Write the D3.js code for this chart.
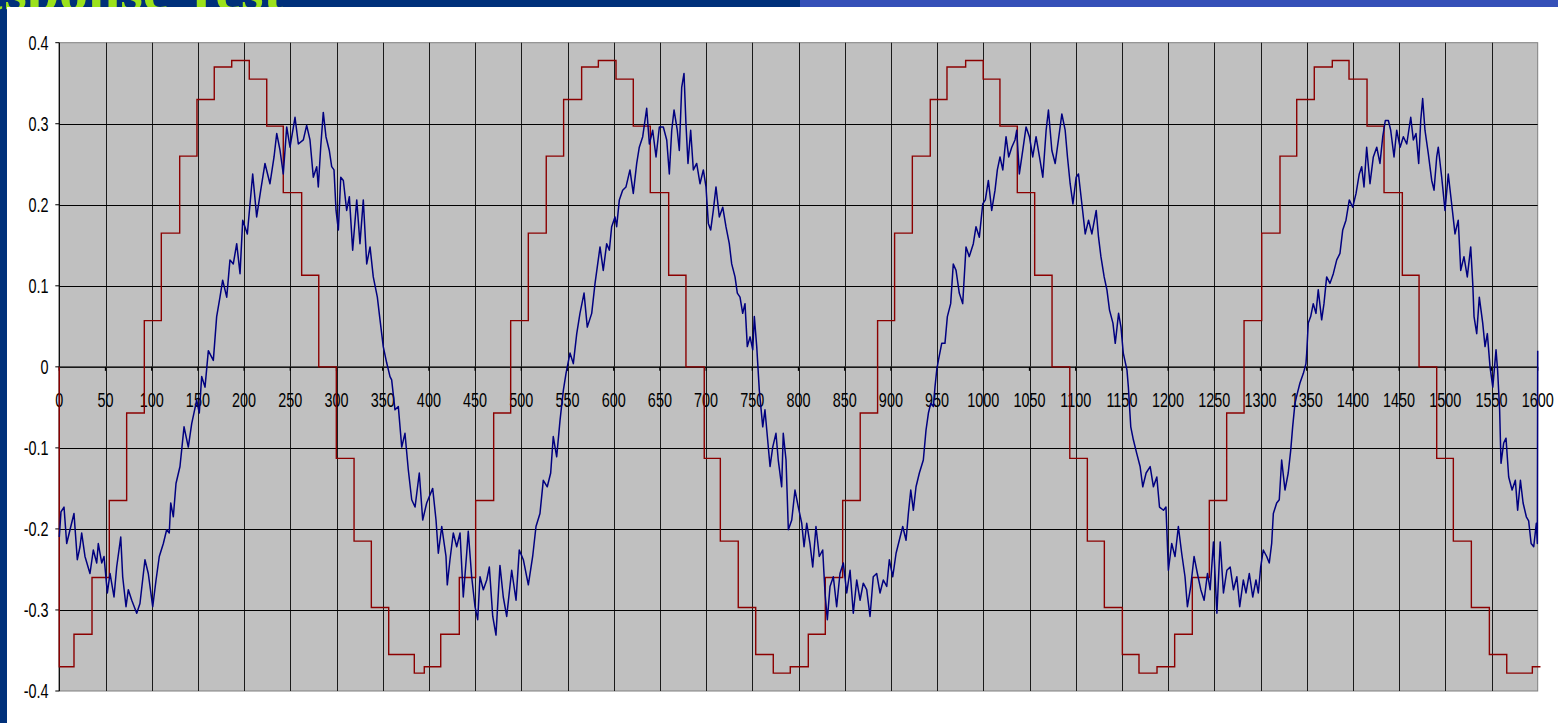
<!DOCTYPE html>
<html>
<head>
<meta charset="utf-8">
<script src="https://cdn.jsdelivr.net/npm/d3@7/dist/d3.min.js"></script>
<style>
  body { margin: 0; background: #fff; overflow: hidden; }
  svg { display: block; }
</style>
</head>
<body>
<svg id="chart"></svg>
<script>
// x axis ticks / y axis ticks
const xTicks = d3.range(0, 1601, 50);
const yTicks = [-0.4, -0.3, -0.2, -0.1, 0, 0.1, 0.2, 0.3, 0.4];
const yTickLabels = ['-0.4', '-0.3', '-0.2', '-0.1', '0', '0.1', '0.2', '0.3', '0.4'];

// command signal: [x where the level starts, level] (held until next point)
const command = [
  [0, 0], [0, -0.37], [15.9, -0.33], [35.4, -0.26], [54.1, -0.165], [72.9, -0.057], [92, 0.057],
  [110.4, 0.165], [130.3, 0.26], [149, 0.33], [167.7, 0.37], [186.6, 0.378], [205.6, 0.355],
  [224.5, 0.297], [242.4, 0.215], [262.3, 0.113], [280.8, 0], [299.8, -0.113], [319, -0.215],
  [337.7, -0.297], [356.5, -0.355], [384.2, -0.378], [395, -0.37], [412.8, -0.33], [432.9, -0.26],
  [450.6, -0.165], [470.1, -0.057], [488.5, 0.057], [507.6, 0.165], [527, 0.26], [545.8, 0.33],
  [565.3, 0.37], [583.4, 0.378], [602.5, 0.355], [621.2, 0.297], [639.6, 0.215], [659.5, 0.113],
  [678.2, 0], [698, -0.113], [715.4, -0.215], [734.8, -0.297], [753.7, -0.355], [772.7, -0.378],
  [791.1, -0.37], [810.6, -0.33], [829, -0.26], [847.8, -0.165], [866.8, -0.057], [885.6, 0.057],
  [904, 0.165], [923.2, 0.26], [942.6, 0.33], [960.7, 0.37], [980.9, 0.378], [999.9, 0.355],
  [1018, 0.297], [1036.8, 0.215], [1055.6, 0.113], [1074.4, 0], [1093.6, -0.113], [1112.6, -0.215],
  [1131, -0.297], [1150.5, -0.355], [1168.5, -0.378], [1188, -0.37], [1207.1, -0.33], [1226.2, -0.26],
  [1244.6, -0.165], [1263.4, -0.057], [1282.2, 0.057], [1301.3, 0.165], [1321.1, 0.26], [1339.2, 0.33],
  [1358.2, 0.37], [1377.7, 0.378], [1395.8, 0.355], [1415.3, 0.297], [1433.7, 0.215], [1453.5, 0.113],
  [1471.6, 0], [1490.7, -0.113], [1508.7, -0.215], [1528.2, -0.297], [1547.7, -0.355], [1566.5, -0.378],
  [1594.2, -0.37], [1603, -0.37]
];

// measured response: [x, value]
const response = [
  [0, -0.21], [1.8, -0.179], [5.1, -0.173], [8, -0.218], [11.6, -0.201], [15.9, -0.181], [19.5, -0.238],
  [22.4, -0.222], [24.2, -0.205], [27.8, -0.234], [33.2, -0.255], [36.8, -0.226], [40.5, -0.242],
  [42.2, -0.218], [45.9, -0.242], [48.4, -0.234], [52, -0.279], [54.9, -0.255], [59.2, -0.284],
  [62.1, -0.247], [66.5, -0.21], [68.6, -0.259], [72.2, -0.296], [74.7, -0.275], [78.4, -0.288],
  [83.8, -0.304], [87.3, -0.292], [92.7, -0.238], [96.3, -0.255], [101.1, -0.296], [104.7, -0.263],
  [108.2, -0.234], [112.6, -0.218], [116.2, -0.201], [119, -0.205], [120.6, -0.168], [123.4, -0.185],
  [126.3, -0.144], [130.6, -0.123], [135, -0.074], [139.6, -0.099], [143.3, -0.07], [148.7, -0.041],
  [151.5, -0.057], [154.1, -0.012], [157.7, -0.025], [161.3, 0.02], [166.7, 0.008], [170.3, 0.062],
  [173.9, 0.086], [176.8, 0.107], [181.2, 0.086], [184.7, 0.132], [188.3, 0.127], [192, 0.152],
  [195.6, 0.115], [198.5, 0.181], [203.5, 0.164], [209.3, 0.238], [213.6, 0.185], [218, 0.218],
  [222.6, 0.251], [228, 0.226], [232.4, 0.259], [235.3, 0.288], [238.9, 0.267], [242.4, 0.238],
  [246.1, 0.296], [249.7, 0.271], [255.1, 0.308], [258.7, 0.275], [264.1, 0.28], [267.7, 0.298],
  [271.3, 0.28], [274.9, 0.234], [278.6, 0.247], [280.3, 0.222], [282.9, 0.271], [285.7, 0.314],
  [288.6, 0.284], [292.2, 0.267], [294.8, 0.247], [297.3, 0.243], [299.5, 0.193], [302, 0.169],
  [304.6, 0.234], [307.4, 0.23], [311, 0.193], [313.9, 0.21], [317.5, 0.144], [321.9, 0.206],
  [325.4, 0.152], [329, 0.206], [332.7, 0.127], [336.3, 0.148], [339.8, 0.111], [344.2, 0.086],
  [347.1, 0.058], [350.6, 0.025], [354.3, 0.005], [357.9, -0.012], [359.7, -0.016], [363.3, -0.053],
  [366.9, -0.049], [370.6, -0.099], [374.1, -0.082], [377.7, -0.127], [381.4, -0.164], [385, -0.173],
  [389.6, -0.131], [393.3, -0.189], [397.6, -0.168], [404.1, -0.15], [407.7, -0.189], [410.2, -0.23],
  [413.9, -0.197], [418.5, -0.234], [419.9, -0.269], [422.8, -0.238], [426.4, -0.205], [430.1, -0.222],
  [433.7, -0.205], [437.2, -0.284], [440.9, -0.23], [442.6, -0.203], [446.3, -0.259], [449.9, -0.296],
  [452.8, -0.312], [455.3, -0.259], [458.9, -0.275], [462.6, -0.263], [465.4, -0.247], [469.1, -0.308],
  [472.6, -0.331], [476.9, -0.245], [480.5, -0.284], [484.2, -0.308], [489.6, -0.251], [494.3, -0.288],
  [497.8, -0.226], [502.2, -0.238], [507.6, -0.269], [512.3, -0.234], [515.9, -0.197], [520.2, -0.181],
  [523.8, -0.14], [528.1, -0.148], [531.8, -0.131], [534.6, -0.086], [538.3, -0.111], [541.9, -0.066],
  [545.5, -0.029], [548.4, -0.008], [552.7, 0.017], [556.3, 0.004], [560, 0.041], [563.5, 0.066],
  [567.9, 0.091], [571.4, 0.049], [576.2, 0.066], [579.8, 0.103], [585.2, 0.148], [588.7, 0.119],
  [592.4, 0.152], [595.3, 0.144], [597.8, 0.173], [601.4, 0.185], [603.2, 0.173], [606.1, 0.206],
  [609.7, 0.218], [613.3, 0.222], [617.6, 0.243], [621.2, 0.214], [624.9, 0.251], [627.7, 0.271],
  [631.4, 0.284], [635.7, 0.319], [638.6, 0.275], [642.2, 0.292], [645.8, 0.259], [649.4, 0.296],
  [653.7, 0.296], [657.4, 0.28], [660.2, 0.238], [662.8, 0.292], [665.3, 0.317], [668.8, 0.292],
  [671, 0.267], [673.6, 0.345], [676.1, 0.362], [678.2, 0.3], [680.4, 0.251], [683.3, 0.292],
  [686.2, 0.243], [689.8, 0.251], [693.4, 0.226], [697, 0.243], [699.9, 0.222], [702.4, 0.177],
  [705, 0.169], [707.8, 0.193], [710.7, 0.222], [714.3, 0.185], [718, 0.197], [721.5, 0.173],
  [725.1, 0.152], [727.7, 0.127], [731.3, 0.111], [733.8, 0.091], [736.7, 0.086], [739.6, 0.066],
  [742.1, 0.078], [744.6, 0.025], [747.6, 0.037], [750.5, 0.021], [752.2, 0.062], [754.8, 0.025],
  [757.6, -0.029], [761.3, -0.074], [763.7, -0.053], [766.3, -0.086], [769.2, -0.123], [772.1, -0.099],
  [775.6, -0.082], [778.1, -0.115], [781.8, -0.148], [783.5, -0.082], [786.5, -0.115], [789, -0.201],
  [792.7, -0.189], [796.2, -0.152], [799.8, -0.173], [803.5, -0.193], [806, -0.222], [808.9, -0.193],
  [812.4, -0.218], [815.4, -0.247], [818.9, -0.197], [822.5, -0.234], [826.2, -0.226], [828.7, -0.279],
  [831.2, -0.312], [834.1, -0.271], [837.7, -0.259], [841.3, -0.296], [844.9, -0.255], [848.5, -0.242],
  [852.2, -0.279], [855.8, -0.251], [859.3, -0.304], [863, -0.263], [866.6, -0.288], [870.1, -0.267],
  [873.8, -0.275], [877.4, -0.308], [880.9, -0.259], [884.6, -0.255], [888.2, -0.279], [891.8, -0.263],
  [895.5, -0.271], [898.3, -0.238], [902, -0.259], [905.6, -0.23], [909.1, -0.214], [912.8, -0.197],
  [916.4, -0.214], [918.9, -0.181], [921.5, -0.152], [924.3, -0.177], [927.2, -0.148], [930.8, -0.131],
  [935.1, -0.115], [938, -0.078], [940.6, -0.057], [943.1, -0.045], [946, -0.049], [947.7, -0.025],
  [949.6, -0.004], [951.4, 0.008], [955, 0.029], [958.5, 0.029], [961.1, 0.062], [964.7, 0.078],
  [967.5, 0.127], [970.5, 0.119], [974, 0.091], [977.7, 0.078], [981.3, 0.148], [984.8, 0.136],
  [989.2, 0.152], [992.1, 0.173], [995.7, 0.16], [999.4, 0.201], [1002.2, 0.206], [1005.5, 0.23],
  [1009.1, 0.193], [1012.7, 0.218], [1015.2, 0.243], [1018.1, 0.259], [1021.1, 0.243], [1024.6, 0.284],
  [1027.5, 0.259], [1030.8, 0.271], [1034.3, 0.28], [1036.2, 0.292], [1039, 0.238], [1042.7, 0.267],
  [1046.3, 0.296], [1049.9, 0.284], [1053.5, 0.259], [1057.1, 0.284], [1060.8, 0.259], [1064.4, 0.234],
  [1068, 0.292], [1070.5, 0.317], [1074.2, 0.267], [1077.8, 0.251], [1081.3, 0.28], [1085, 0.312],
  [1088.6, 0.292], [1091.1, 0.259], [1094, 0.226], [1097, 0.201], [1100.5, 0.234], [1103, 0.238],
  [1106.7, 0.201], [1110.3, 0.164], [1113.9, 0.181], [1117.5, 0.164], [1122.2, 0.193], [1124.7, 0.16],
  [1127.3, 0.136], [1130.8, 0.111], [1133.8, 0.095], [1136.6, 0.07], [1140.3, 0.054], [1142.8, 0.029],
  [1146.4, 0.066], [1149, 0.049], [1151.5, 0.017], [1155.5, -0.004], [1157, -0.025], [1159.6, -0.074],
  [1162.4, -0.09], [1166.1, -0.107], [1169.7, -0.123], [1172.6, -0.148], [1176.2, -0.131], [1180.6, -0.123],
  [1184.1, -0.148], [1187.8, -0.136], [1190.7, -0.173], [1195, -0.177], [1197.7, -0.173], [1200.3, -0.251],
  [1203.9, -0.218], [1207.5, -0.234], [1211.1, -0.197], [1214.7, -0.23], [1218.3, -0.259], [1220.9, -0.296],
  [1224.5, -0.271], [1228.1, -0.234], [1231.7, -0.255], [1235.4, -0.275], [1239, -0.288], [1242.6, -0.255],
  [1245.5, -0.275], [1249.1, -0.216], [1252.8, -0.304], [1256.4, -0.216], [1259.9, -0.279], [1263.6, -0.251],
  [1267.2, -0.247], [1270.7, -0.275], [1274.4, -0.259], [1277.5, -0.296], [1281.4, -0.263], [1284.3, -0.279],
  [1287.9, -0.255], [1291.6, -0.284], [1295.1, -0.263], [1297.6, -0.279], [1300.2, -0.247], [1303, -0.226],
  [1306.7, -0.234], [1309.5, -0.242], [1312.1, -0.218], [1313.9, -0.181], [1317.5, -0.168], [1320.3, -0.164],
  [1322.9, -0.115], [1326.5, -0.152], [1330, -0.131], [1332.7, -0.103], [1334.8, -0.074], [1337.3, -0.045],
  [1339.8, -0.033], [1342.7, -0.02], [1346.4, -0.008], [1349.2, 0.004], [1350, 0.017], [1351.7, 0.054],
  [1354.3, 0.062], [1357.1, 0.078], [1360, 0.066], [1362.5, 0.095], [1366.2, 0.058], [1368.7, 0.078],
  [1371.6, 0.111], [1375.2, 0.103], [1378.8, 0.115], [1382.5, 0.132], [1386, 0.14], [1389, 0.169],
  [1392.5, 0.181], [1396.1, 0.206], [1399.8, 0.197], [1403.4, 0.214], [1406.9, 0.238], [1409.5, 0.247],
  [1412, 0.222], [1414.9, 0.271], [1418.5, 0.226], [1422.1, 0.259], [1425.8, 0.271], [1429.3, 0.251],
  [1432.3, 0.284], [1435.1, 0.304], [1438.4, 0.304], [1440.9, 0.292], [1444.5, 0.259], [1447.4, 0.292],
  [1451.1, 0.271], [1454.6, 0.284], [1458.3, 0.275], [1462.6, 0.308], [1465.4, 0.28], [1468.3, 0.288],
  [1471.2, 0.251], [1473.4, 0.304], [1475.5, 0.331], [1478, 0.292], [1481.6, 0.263], [1485.3, 0.23],
  [1487.8, 0.218], [1490.7, 0.259], [1492.4, 0.271], [1496.1, 0.234], [1499.7, 0.193], [1503.2, 0.238],
  [1506.9, 0.201], [1510.5, 0.164], [1514, 0.181], [1516.7, 0.119], [1520.2, 0.136], [1523.8, 0.111],
  [1527.5, 0.148], [1529.7, 0.103], [1531.1, 0.062], [1534, 0.041], [1536.8, 0.086], [1540.5, 0.054],
  [1543, 0.025], [1545.5, 0.041], [1548.4, 0], [1551.4, -0.025], [1554.9, 0.021], [1556.6, -0.004],
  [1558.8, -0.053], [1560.3, -0.119], [1563.2, -0.094], [1565.7, -0.088], [1568.6, -0.136], [1572.3, -0.152],
  [1575.8, -0.14], [1578.3, -0.177], [1581.3, -0.14], [1584.2, -0.168], [1587.7, -0.185], [1590.2, -0.19],
  [1592.9, -0.218], [1595.7, -0.222], [1598.5, -0.193], [1599.6, -0.218], [1600, 0.02]
];

const W = 1558, H = 723;
const svg = d3.select('#chart').attr('width', W).attr('height', H);

// slide background behind the chart object
svg.append('rect').attr('x', 0).attr('y', 0).attr('width', W).attr('height', H).attr('fill', '#00307a');
svg.append('rect').attr('x', 800).attr('y', 0).attr('width', W - 800).attr('height', 8).attr('fill', '#3550b8');
svg.append('text')
  .attr('x', 283).attr('y', 10)
  .attr('text-anchor', 'end')
  .style('font-family', '"Liberation Serif", "DejaVu Serif", serif')
  .style('font-weight', 'bold')
  .style('font-size', '58px')
  .attr('fill', '#9be21c')
  .text('Step Response Test');
svg.append('rect').attr('x', 7).attr('y', 7).attr('width', W - 7).attr('height', H - 7).attr('fill', '#fff');

const x = d3.scaleLinear().domain([0, 1600]).range([59.3, 1537.7]);
const y = d3.scaleLinear().domain([-0.4, 0.4]).range([691, 42.7]);

// plot area
svg.append('rect')
  .attr('x', x(0)).attr('y', y(0.4))
  .attr('width', x(1600) - x(0)).attr('height', y(-0.4) - y(0.4))
  .attr('fill', '#c0c0c0')
  .attr('stroke', '#808080')
  .attr('stroke-width', 1);

const grid = svg.append('g').attr('class', 'grid');
grid.selectAll('line.v')
  .data(xTicks.filter(d => d > 0 && d < 1600))
  .enter().append('line')
  .attr('class', 'v')
  .attr('x1', d => Math.round(x(d)) + 0.5).attr('x2', d => Math.round(x(d)) + 0.5)
  .attr('y1', y(0.4)).attr('y2', y(-0.4))
  .attr('stroke', '#1a1a1a').attr('stroke-width', 1);
grid.selectAll('line.h')
  .data(yTicks.filter(d => d > -0.4 && d < 0.4))
  .enter().append('line')
  .attr('class', 'h')
  .attr('x1', x(0)).attr('x2', x(1600))
  .attr('y1', d => Math.round(y(d)) + 0.5).attr('y2', d => Math.round(y(d)) + 0.5)
  .attr('stroke', '#000').attr('stroke-width', 1);

// axes
svg.append('line')
  .attr('x1', x(0)).attr('x2', x(0)).attr('y1', y(0.4)).attr('y2', y(-0.4))
  .attr('stroke', '#000').attr('stroke-width', 1.2);
svg.append('line')
  .attr('x1', x(0)).attr('x2', x(1600)).attr('y1', y(0)).attr('y2', y(0))
  .attr('stroke', '#333').attr('stroke-width', 1.4);

// small tick marks
svg.append('g').selectAll('line')
  .data(yTicks).enter().append('line')
  .attr('x1', x(0) - 4).attr('x2', x(0))
  .attr('y1', d => y(d)).attr('y2', d => y(d))
  .attr('stroke', '#000');
svg.append('g').selectAll('line')
  .data(xTicks).enter().append('line')
  .attr('x1', d => x(d)).attr('x2', d => x(d))
  .attr('y1', y(0)).attr('y2', y(0) + 4)
  .attr('stroke', '#000').attr('stroke-width', 1.3);

const labelFont = '"Liberation Sans", Arial, sans-serif';
svg.append('g').selectAll('text')
  .data(yTicks).enter().append('text')
  .attr('transform', d => 'translate(48.5,' + (y(d) + 7) + ') scale(0.74,1)')
  .attr('text-anchor', 'end')
  .style('font-family', labelFont)
  .style('font-size', '19.5px')
  .attr('fill', '#000')
  .text((d, i) => yTickLabels[i]);

svg.append('g').selectAll('text')
  .data(xTicks).enter().append('text')
  .attr('transform', d => 'translate(' + x(d) + ',' + (y(0) + 40.5) + ') scale(0.74,1)')
  .attr('text-anchor', 'middle')
  .style('font-family', labelFont)
  .style('font-size', '19.5px')
  .attr('fill', '#000')
  .text(d => d);

// series
const stepLine = d3.line()
  .x(d => x(d[0]))
  .y(d => y(d[1]))
  .curve(d3.curveStepAfter);
svg.append('path')
  .datum(command)
  .attr('d', stepLine)
  .attr('fill', 'none')
  .attr('stroke', '#8b0000')
  .attr('stroke-width', 1.4);

const respLine = d3.line()
  .x(d => x(d[0]))
  .y(d => y(d[1]));
svg.append('path')
  .datum(response)
  .attr('d', respLine)
  .attr('fill', 'none')
  .attr('stroke', '#000080')
  .attr('stroke-width', 1.5)
  .attr('stroke-linejoin', 'round');
</script>
</body>
</html>
